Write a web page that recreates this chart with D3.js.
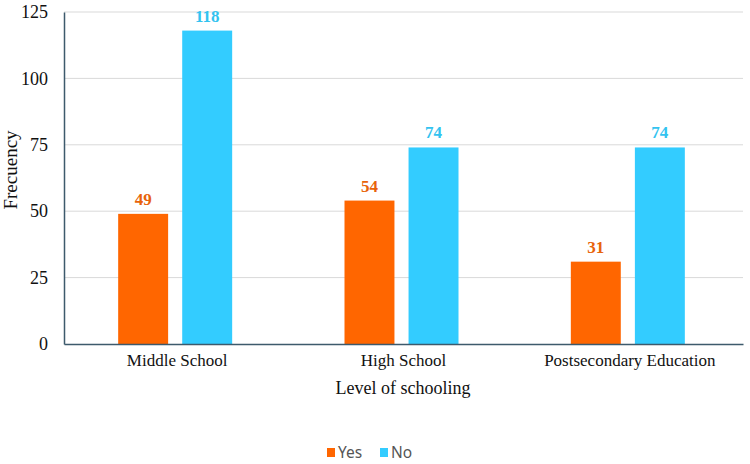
<!DOCTYPE html>
<html>
<head>
<meta charset="utf-8">
<script src="https://cdn.jsdelivr.net/npm/d3@7"></script>
<style>
body { margin: 0; background: #fff; }
svg { display: block; }
</style>
</head>
<body>
<svg id="chart"></svg>
<script>
var categories = ["Middle School", "High School", "Postsecondary Education"]
var seriesNames = ["Yes", "No"]
var yesValues = [49, 54, 31]
var noValues = [118, 74, 74]
var yTicks = [0, 25, 50, 75, 100, 125]

var colors = {Yes: "#ff6600", No: "#33ccff"}
var labelColors = {Yes: "#e8630a", No: "#33c3f0"}

var width = 750
var height = 464
var margins = {top: 12, bottom: 120, left: 64, right: 7}

var svg = d3.select("#chart")
    .attr("width", width)
    .attr("height", height)

var xScale = d3.scaleBand()
    .domain(categories)
    .range([margins.left, width - margins.right])

var inner = d3.scaleBand()
    .domain(seriesNames)
    .range([0, 114])
    .paddingInner(0.22)

var yScale = d3.scaleLinear()
    .domain([0, 125])
    .range([height - margins.bottom, margins.top])

// gridlines
svg.append("g")
    .selectAll("line")
    .data(yTicks.slice(1))
    .enter()
    .append("line")
    .attr("x1", margins.left)
    .attr("x2", width - margins.right)
    .attr("y1", function(d){return yScale(d)})
    .attr("y2", function(d){return yScale(d)})
    .attr("stroke", "#d9d9d9")
    .attr("stroke-width", 1)

var rows = categories.map(function(c, i)
{
    return [{cat: c, key: "Yes", value: yesValues[i]}, {cat: c, key: "No", value: noValues[i]}]
})

var groups = svg.append("g")
    .selectAll("g")
    .data(rows)
    .enter()
    .append("g")
    .attr("transform", function(d)
    {
        return "translate(" + (xScale(d[0].cat) + (xScale.bandwidth() - 114) / 2 - 2) + ",0)"
    })

groups.selectAll("rect")
    .data(function(d){return d})
    .enter()
    .append("rect")
    .attr("x", function(d){return inner(d.key)})
    .attr("y", function(d){return yScale(d.value)})
    .attr("width", inner.bandwidth())
    .attr("height", function(d){return yScale(0) - yScale(d.value)})
    .attr("fill", function(d){return colors[d.key]})

groups.selectAll("text")
    .data(function(d){return d})
    .enter()
    .append("text")
    .attr("x", function(d){return inner(d.key) + inner.bandwidth() / 2})
    .attr("y", function(d){return yScale(d.value) - 9})
    .attr("text-anchor", "middle")
    .attr("font-family", "Liberation Serif, Times New Roman, serif")
    .attr("font-weight", "bold")
    .attr("font-size", 17)
    .attr("fill", function(d){return labelColors[d.key]})
    .text(function(d){return d.value})

// axes
var yAxis = d3.axisLeft(yScale)
    .tickValues(yTicks)
    .tickSize(0)
    .tickPadding(16)

var yG = svg.append("g")
    .attr("transform", "translate(" + margins.left + ",0)")
    .call(yAxis)
yG.select(".domain").attr("stroke", "#3d5a6c").attr("stroke-width", 1.5)
yG.selectAll("text")
    .attr("font-family", "Liberation Serif, Times New Roman, serif")
    .attr("font-size", 18)
    .attr("fill", "#111")

var xAxis = d3.axisBottom(xScale)
    .tickSize(0)
    .tickPadding(10)

var xG = svg.append("g")
    .attr("transform", "translate(0," + yScale(0) + ")")
    .call(xAxis)
xG.select(".domain").attr("stroke", "#3d5a6c").attr("stroke-width", 1.5)
xG.selectAll("text")
    .attr("font-family", "Liberation Serif, Times New Roman, serif")
    .attr("font-size", 17)
    .attr("fill", "#111")

// axis titles
svg.append("text")
    .text("Level of schooling")
    .attr("x", 403)
    .attr("y", 394)
    .attr("text-anchor", "middle")
    .attr("font-family", "Liberation Serif, Times New Roman, serif")
    .attr("font-size", 18)
    .attr("fill", "#111")

svg.append("text")
    .text("Frecuency")
    .attr("transform", "translate(17,170) rotate(-90)")
    .attr("text-anchor", "middle")
    .attr("font-family", "Liberation Serif, Times New Roman, serif")
    .attr("font-size", 19)
    .attr("fill", "#111")

// legend
var legend = svg.append("g")
    .attr("transform", "translate(327,448)")

var items = legend.selectAll("g")
    .data(seriesNames)
    .enter()
    .append("g")
    .attr("transform", function(d, i){return "translate(" + (i * 53) + ",0)"})

items.append("rect")
    .attr("width", 8)
    .attr("height", 9)
    .attr("fill", function(d){return colors[d]})

items.append("text")
    .text(function(d){return d})
    .attr("x", 11)
    .attr("y", 10)
    .attr("font-family", "Noto Sans, sans-serif")
    .attr("font-size", 15.5)
    .attr("fill", "#555")
</script>
</body>
</html>
